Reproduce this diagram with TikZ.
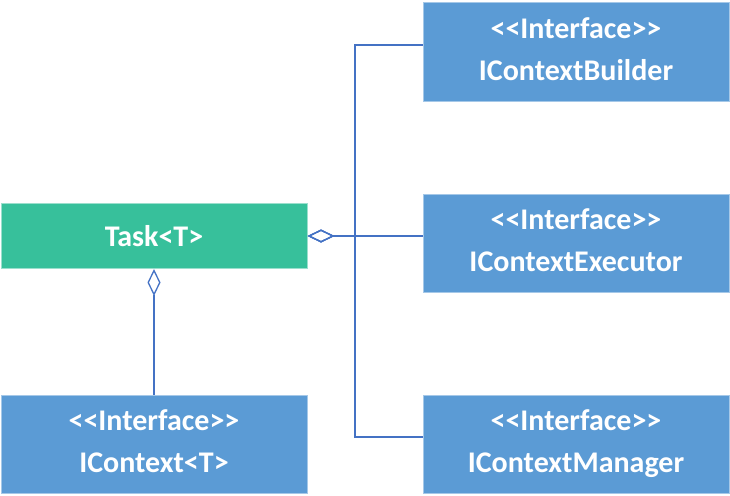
\documentclass[tikz,border=0pt]{standalone}
\usepackage{fontspec}
\setmainfont{Carlito}
\usetikzlibrary{arrows.meta,positioning}
\definecolor{taskgreen}{HTML}{37C09B}
\definecolor{ifaceblue}{HTML}{5B9BD5}
\definecolor{linkblue}{HTML}{4472C4}
\begin{document}
\begin{tikzpicture}
[x=1pt,y=-1pt,
 box/.style={rectangle, minimum width=306pt, text=white, align=center, inner sep=0pt,
   font=\bfseries\fontsize{30}{42}\selectfont},
 iface/.style={box, fill=ifaceblue, draw=ifaceblue!55!white, line width=1pt, minimum height=98pt, text depth=6pt},
 task/.style={box, fill=taskgreen, draw=taskgreen!50!white, line width=1pt, minimum height=65pt},
 link/.style={draw=linkblue, line width=1.3pt, {Diamond[open,length=27pt,width=13pt,line width=1.3pt]}-}]
\useasboundingbox (0,0) rectangle (730,495);
\node[task] (task) at (154,236) {Task<T>};
\node[iface] (ictx) at (154,444) {<{}<Interface>{}>\\IContext<T>};
\node[iface] (icb) at (576,52) {<{}<Interface>{}>\\IContextBuilder};
\node[iface] (ice) at (576,243) {<{}<Interface>{}>\\IContextExecutor};
\node[iface] (icm) at (576,444) {<{}<Interface>{}>\\IContextManager};
\coordinate (trunk) at (355,236);
\draw[link] (task.east) -- ([yshift=7pt]ice.west);
\draw[link] (task.east) -- (trunk) |- ([yshift=7pt]icb.west);
\draw[link] (task.east) -- (trunk) |- ([yshift=7pt]icm.west);
\draw[link] (task.south) -- (ictx.north);
\end{tikzpicture}
\end{document}
